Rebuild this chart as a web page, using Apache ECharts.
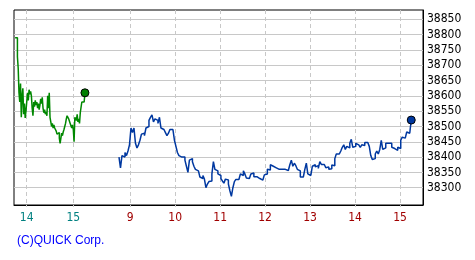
<!DOCTYPE html>
<html><head><meta charset="utf-8">
<script src="https://cdn.jsdelivr.net/npm/echarts@6/dist/echarts.min.js"></script>
<style>html,body{margin:0;padding:0;background:#fff}#c{width:475px;height:260px}</style>
</head><body><div id="c"></div>
<script>
// ---- data ----
const prevStart = '13:45';      // previous day, 1-minute values
const prevStepMin = 1;
const prevValues = [
 38790,38790,38790,38728,38690,38610,38580,38640,38530,38600,
 38625,38540,38575,38528,38550,38545,38610,38585,38620,38605,
 38615,38600,38560,38535,38580,38565,38585,38570,38580,38560,
 38575,38555,38570,38590,38575,38595,38560,38545,38555,38540,
 38548,38535,38600,38560,38610,38530,38515,38500,38510,38495,
 38505,38495,38500,38485,38475,38470,38480,38462,38445,38440,
 38478,38470,38482,38490,38500,38510,38525,38535,38540,38525,
 38530,38510,38505,38495,38505,38490,38450,38530,38535,38520,
 38540,38515,38525,38510,38545,38545,38580,38580,38580,38580,
 38610];
const todayStart = '08:45';     // today, 2-minute values
const todayStepMin = 2;
const todayValues = [
 38400,38365,38405,38400,38415,38405,38420,38440,38495,38480,
 38495,38445,38430,38440,38455,38475,38478,38470,38495,38500,
 38520,38530,38538,38515,38525,38520,38510,38530,38495,38490,
 38495,38480,38470,38478,38490,38490,38485,38455,38435,38415,
 38405,38400,38402,38400,38390,38370,38350,38390,38395,38385,
 38370,38360,38355,38350,38335,38330,38340,38328,38300,38312,
 38320,38322,38345,38385,38360,38355,38345,38340,38330,38322,
 38315,38328,38325,38312,38290,38272,38300,38320,38327,38327,
 38332,38345,38340,38355,38345,38332,38330,38325,38345,38348,
 38336,38336,38336,38330,38328,38325,38320,38342,38345,38360,
 38358,38375,38370,38370,38365,38360,38360,38360,38360,38360,
 38360,38360,38356,38355,38375,38390,38370,38380,38372,38360,
 38355,38335,38335,38340,38360,38380,38345,38340,38345,38370,
 38375,38368,38372,38363,38385,38376,38376,38374,38365,38368,
 38360,38362,38374,38372,38395,38410,38410,38410,38420,38432,
 38440,38425,38435,38430,38445,38458,38432,38435,38445,38440,
 38445,38432,38440,38438,38448,38448,38448,38435,38405,38392,
 38395,38410,38420,38410,38425,38455,38425,38430,38445,38445,
 38442,38445,38432,38428,38430,38422,38432,38428,38455,38465,
 38462,38468,38482,38478,38478,38521];
const xTickLabels = ['14','15','9','10','11','12','13','14','15'];
const xTickDay    = ['prev','prev','today','today','today','today','today','today','today'];
const yTickValues = [38300,38350,38400,38450,38500,38550,38600,38650,38700,38750,38800,38850];
const copyright = '(C)QUICK Corp.';

// ---- axis mapping (today: minutes since midnight; previous day session placed before it) ----
const PREV_ANCHOR = 401.9, PREV_SCALE = 62.13 / 60;
const toMin = s => { const [h, m] = s.split(':').map(Number); return h * 60 + m; };
const uPrev = m => PREV_ANCHOR + (m - 840) * PREV_SCALE;
const uToday = m => m;

const prevData = prevValues.map((v, i) => [uPrev(toMin(prevStart) + i * prevStepMin), v]);
const todayData = todayValues.map((v, i) => [uToday(toMin(todayStart) + i * todayStepMin), v]);
const xTickValues = xTickLabels.map((l, i) => xTickDay[i] === 'prev' ? uPrev(Number(l) * 60) : uToday(Number(l) * 60));

const FONT = '"Liberation Sans Narrow","DejaVu Sans Condensed","Liberation Sans",sans-serif';
const chart = echarts.init(document.getElementById('c'), null, {renderer: 'canvas'});
const GRID = '#c8c8c8';
chart.setOption({
  animation: false,
  backgroundColor: '#fff',
  grid: {left: 14, right: 52, top: 10, bottom: 55, show: true, borderColor: '#000', borderWidth: 1, backgroundColor: 'transparent'},
  xAxis: {
    type: 'value', min: 384.9, max: 930.7,
    axisLine: {show: true, lineStyle: {color: '#000', width: 1}},
    axisTick: {show: true, length: 2, customValues: xTickValues, lineStyle: {color: GRID}},
    splitLine: {show: true, lineStyle: {color: GRID, type: [4, 3], width: 1}},
    axisLabel: {
      customValues: xTickValues, margin: 7,
      formatter: v => {
        let k = 0, best = Infinity;
        xTickValues.forEach((t, i) => { if (Math.abs(t - v) < best) { best = Math.abs(t - v); k = i; } });
        return '{' + (xTickDay[k] === 'prev' ? 'p' : 't') + '|' + xTickLabels[k] + '}';
      },
      rich: {
        p: {color: '#008080', fontSize: 12, fontFamily: FONT},
        t: {color: '#a00000', fontSize: 12, fontFamily: FONT}
      }
    }
  },
  yAxis: {
    type: 'value', position: 'right', min: 38243.5, max: 38880.5, scale: true,
    axisLine: {show: true, lineStyle: {color: '#000', width: 1}},
    axisTick: {show: false, customValues: yTickValues},
    splitLine: {show: true, lineStyle: {color: GRID, width: 1}},
    axisLabel: {customValues: yTickValues, margin: 4, color: '#000', fontSize: 12,
      fontFamily: FONT, formatter: v => String(Math.round(v))}
  },
  series: [
    {type: 'line', data: prevData, showSymbol: false, step: 'end',
     lineStyle: {color: '#008800', width: 1.5}, z: 3},
    {type: 'line', data: todayData, showSymbol: false, step: 'end',
     lineStyle: {color: '#0038a0', width: 1.5}, z: 3},
    {type: 'scatter', data: [prevData[prevData.length - 1]], symbol: 'circle', symbolSize: 8,
     itemStyle: {color: '#008000', borderColor: '#000', borderWidth: 1, opacity: 1}, z: 5},
    {type: 'scatter', data: [todayData[todayData.length - 1]], symbol: 'circle', symbolSize: 8,
     itemStyle: {color: '#0038a0', borderColor: '#000', borderWidth: 1, opacity: 1}, z: 5}
  ],
  graphic: [{type: 'text', left: 17, top: 235,
    style: {text: copyright, fill: '#0000ff', fontSize: 12, fontFamily: '"Liberation Sans","Arial",sans-serif'}}]
});
</script>
</body></html>
